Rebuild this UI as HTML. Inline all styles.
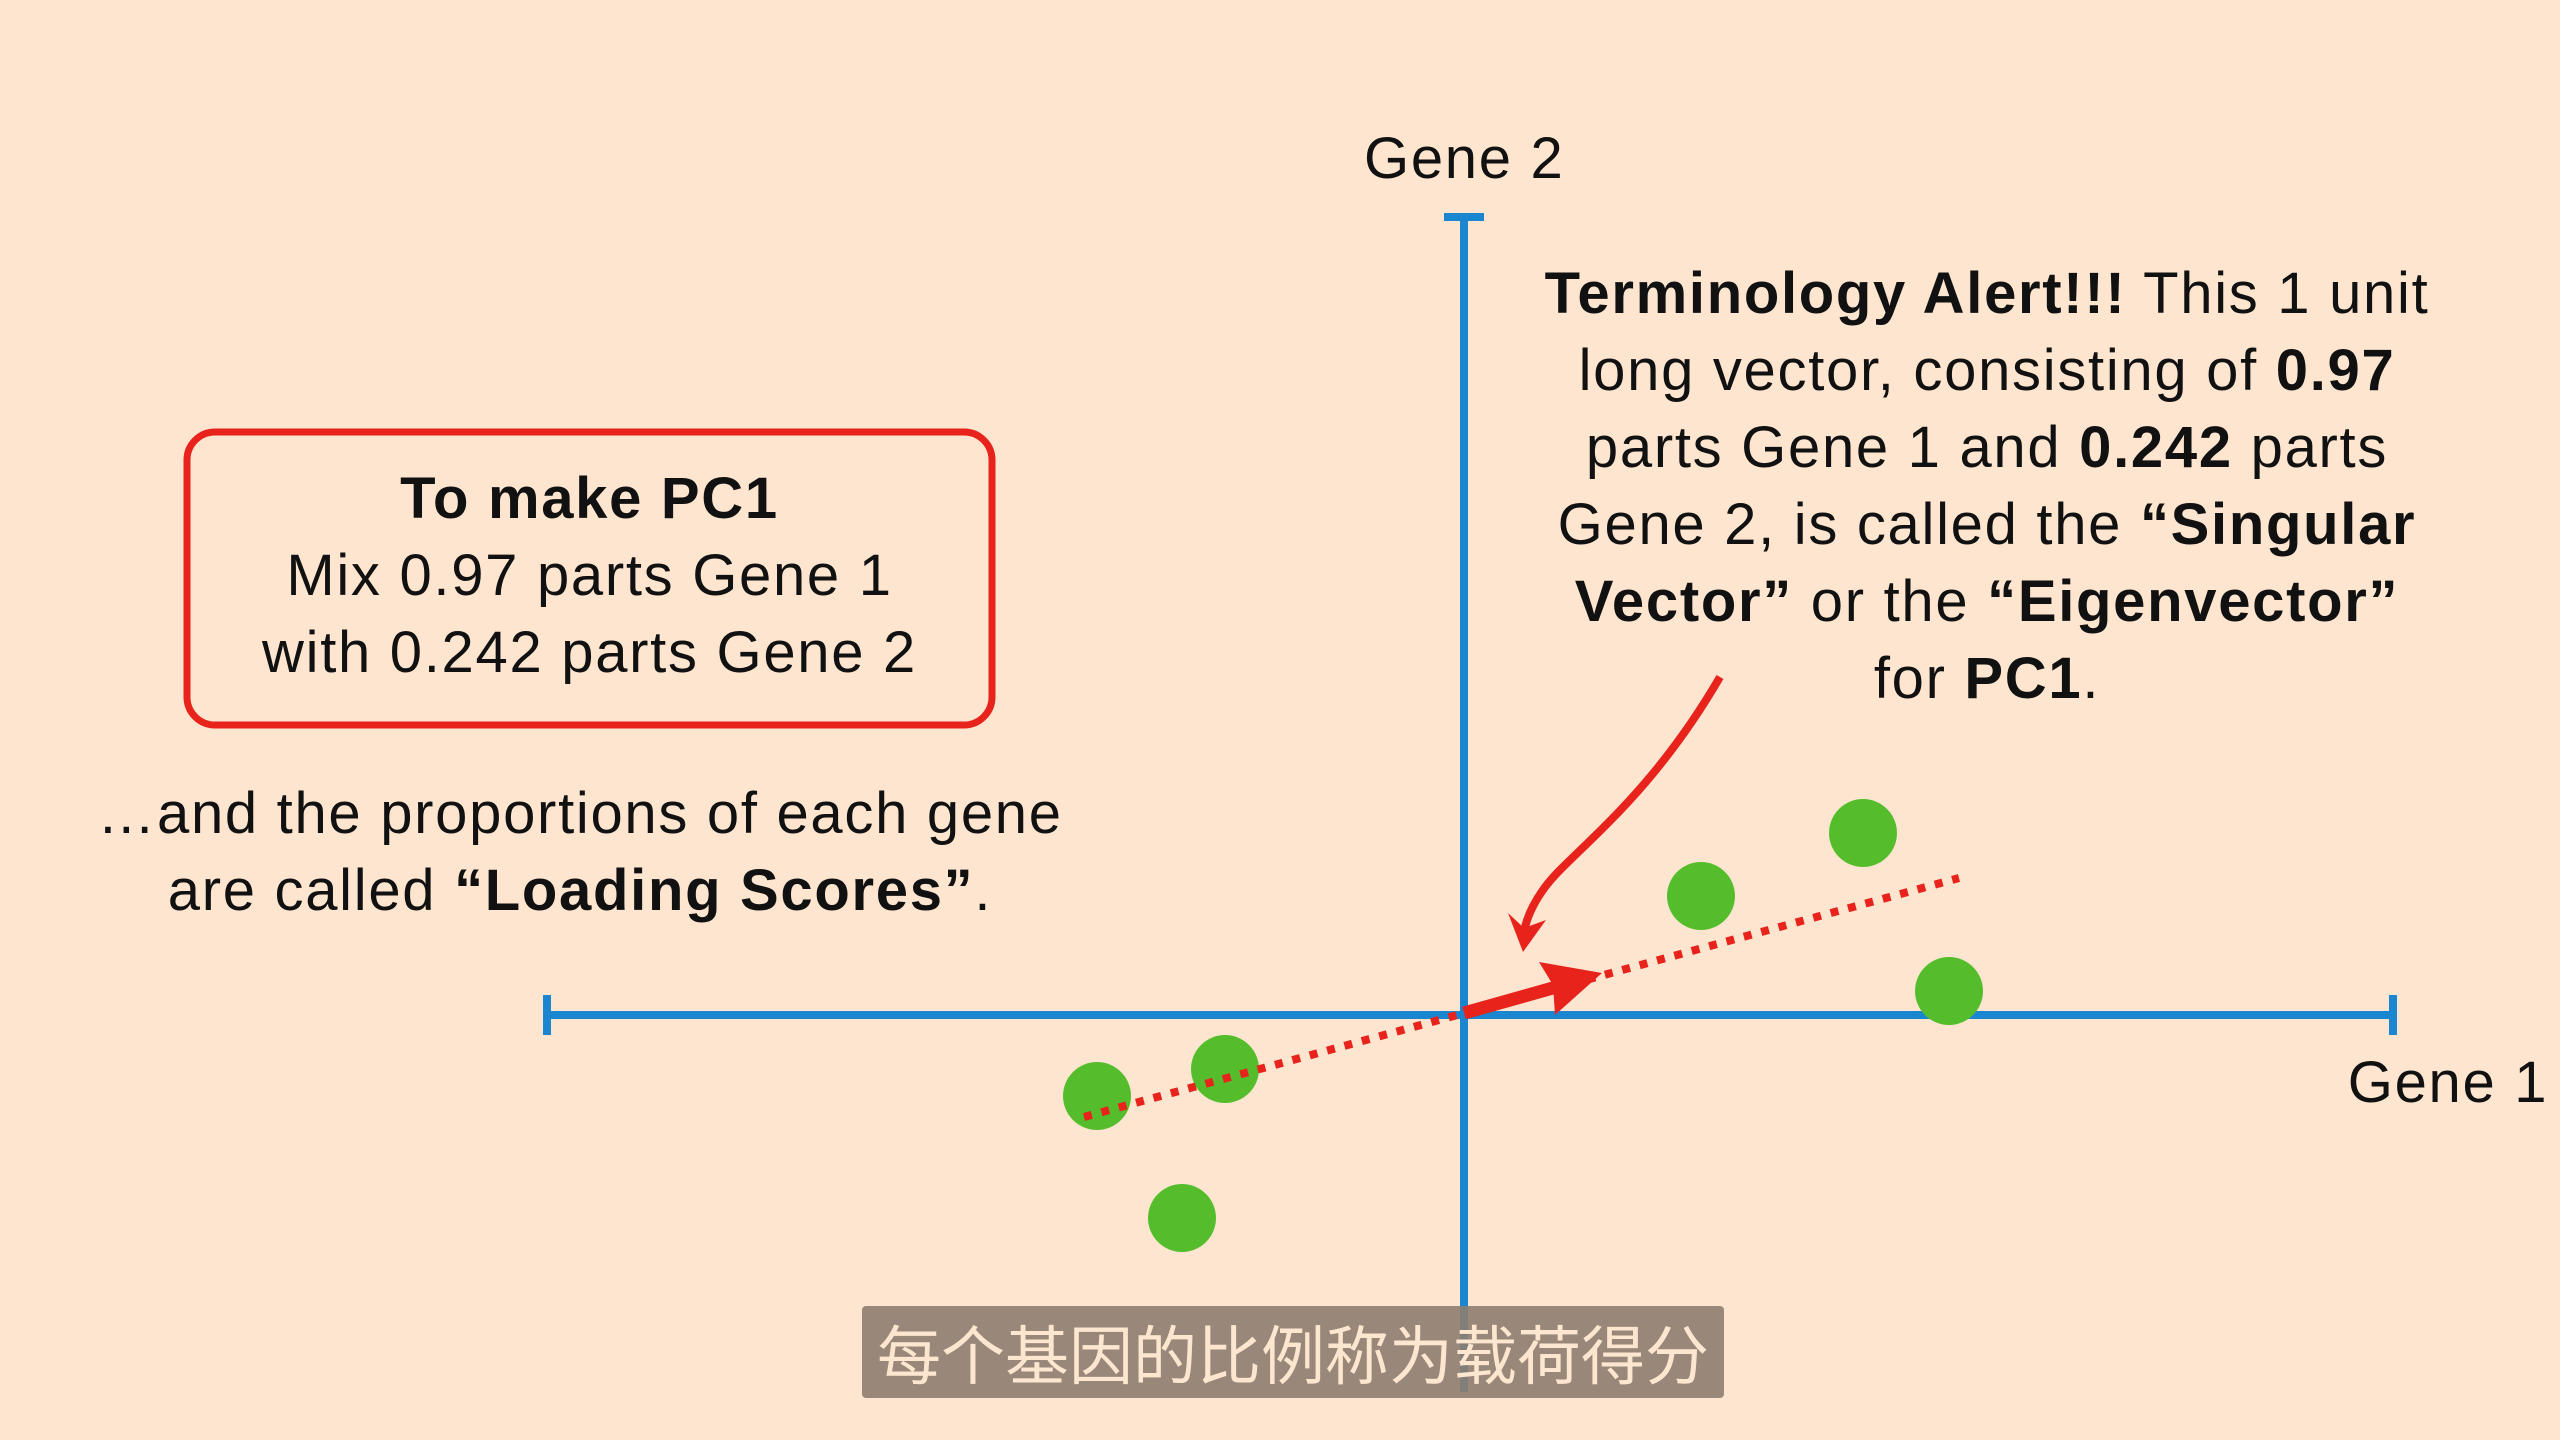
<!DOCTYPE html>
<html><head><meta charset="utf-8"><style>
html,body{margin:0;padding:0;}
body{width:2560px;height:1440px;background:#fde5d0;position:relative;overflow:hidden;font-family:"Liberation Sans","Noto Sans CJK SC",sans-serif;color:#111;}
.t{position:absolute;white-space:nowrap;font-size:58px;line-height:77px;text-align:center;letter-spacing:1.7px;}
b{font-weight:bold;}
</style></head><body>
<svg width="2560" height="1440" style="position:absolute;left:0;top:0">
<g stroke="#1a86d0" stroke-width="8" fill="none">
<line x1="1464" y1="217" x2="1464" y2="1392"/>
<line x1="1444" y1="217" x2="1484" y2="217"/>
<line x1="547" y1="1015" x2="2393" y2="1015"/>
<line x1="547" y1="995" x2="547" y2="1035"/>
<line x1="2393" y1="995" x2="2393" y2="1035"/>
</g>
<g fill="#55bd2c">
<circle cx="1097" cy="1096" r="34"/><circle cx="1225" cy="1069" r="34"/><circle cx="1182" cy="1218" r="34"/>
<circle cx="1701" cy="896" r="34"/><circle cx="1863" cy="833" r="34"/><circle cx="1949" cy="991" r="34"/>
</g>
<line x1="1084" y1="1117" x2="1959" y2="878" stroke="#e8231c" stroke-width="8" stroke-dasharray="8 10"/>
<line x1="1464" y1="1013" x2="1560" y2="986" stroke="#e8231c" stroke-width="13"/>
<polygon points="1602,973 1539,962 1553,985 1555,1015" fill="#e8231c"/>
<path d="M1720,677 C1660,780 1600,830 1560,870 C1535,895 1525,920 1524,935" stroke="#e8231c" stroke-width="8" fill="none"/>
<polygon points="1523,952 1508,913 1524,928 1546,920" fill="#e8231c"/>
<rect x="187" y="432" width="805" height="293" rx="28" fill="none" stroke="#e8231c" stroke-width="7"/>
<rect x="862" y="1306" width="862" height="92" rx="4" fill="#8e7d70" opacity="0.9"/>
</svg>
<div class="t" style="left:1364px;width:200px;top:120px;">Gene 2</div>
<div class="t" style="left:2338px;width:220px;top:1044px;">Gene 1</div>
<div class="t" style="left:187px;width:805px;top:460px;"><b>To make PC1</b><br>Mix 0.97 parts Gene 1<br>with 0.242 parts Gene 2</div>
<div class="t" style="left:30px;width:1100px;top:775px;">…and the proportions of each gene<br>are called <b>“Loading Scores”</b>.</div>
<div class="t" style="left:1487px;width:1000px;top:255px;"><b>Terminology Alert!!!</b> This 1 unit<br>long vector, consisting of <b>0.97</b><br>parts Gene 1 and <b>0.242</b> parts<br>Gene 2, is called the <b>“Singular</b><br><b>Vector”</b> or the <b>“Eigenvector”</b><br>for <b>PC1</b>.</div>
<div class="t" style="left:862px;width:862px;top:1312px;line-height:80px;font-size:64px;letter-spacing:0;color:#fde6cf;font-family:'Noto Sans CJK SC',sans-serif;">每个基因的比例称为载荷得分</div>
</body></html>
